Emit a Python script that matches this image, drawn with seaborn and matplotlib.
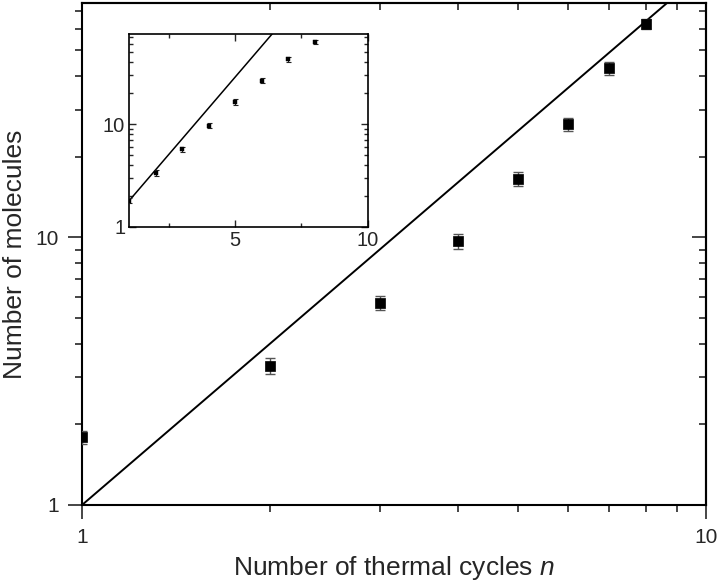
import numpy as np
import pandas as pd
import matplotlib
matplotlib.use("Agg")
import matplotlib.pyplot as plt
import seaborn as sns
from matplotlib.ticker import FixedLocator, FuncFormatter, NullFormatter, LogLocator

cycles = [1, 2, 3, 4, 5, 6, 7, 8]
molecules = [1.79, 3.31, 5.69, 9.66, 16.5, 26.5, 42.8, 62.7]
errors = [0.10, 0.22, 0.35, 0.60, 1.0, 1.5, 2.3, 2.8]
main_ticks = [1, 10]
inset_xticks = [5, 10]
inset_xminor = [2.5, 7.5]

df = pd.DataFrame({"n": cycles, "N": molecules, "err": errors})

sns.set_style("ticks")
plt.rcParams["font.family"] = ["Liberation Sans", "DejaVu Sans"]
plt.rcParams["mathtext.fontset"] = "custom"
plt.rcParams["mathtext.it"] = "Liberation Sans:italic"
plt.rcParams["mathtext.rm"] = "Liberation Sans"

fig = plt.figure(figsize=(7.2, 5.87), dpi=100)
ax = fig.add_axes([82 / 720, 1 - 505 / 587, 624 / 720, 502 / 587])

# model line N = n^2
n_line = np.logspace(0, 1, 100)
sns.lineplot(x=n_line, y=n_line ** 2, color="black", lw=1.4, ax=ax)
ax.errorbar(df["n"], df["N"], yerr=df["err"], fmt="none", ecolor="#555555",
            elinewidth=1, capsize=3.6, capthick=1, zorder=3)
sns.scatterplot(data=df, x="n", y="N", marker="s", s=50, color="black",
                edgecolor="black", linewidth=0.5, ax=ax, zorder=4)

ax.set_xscale("log")
ax.set_yscale("log")
ax.set_xlim(1, 10)
ax.set_ylim(1, 75)
fmt = FuncFormatter(lambda v, p: f"{v:g}")
for axis in (ax.xaxis, ax.yaxis):
    axis.set_major_locator(FixedLocator(main_ticks))
    axis.set_major_formatter(fmt)
    axis.set_minor_locator(LogLocator(base=10, subs=np.arange(2, 10)))
    axis.set_minor_formatter(NullFormatter())
ax.tick_params(which="major", direction="out", length=10, width=1.2, labelsize=15, pad=6.5)
ax.tick_params(which="minor", direction="out", length=5, width=1.2)
for s in ax.spines.values():
    s.set_visible(True)
    s.set_linewidth(1.5)
    s.set_color("black")

# mirrored ticks on top / right, pointing inward
top = ax.secondary_xaxis("top")
right = ax.secondary_yaxis("right")
for sec, axis in ((top, top.xaxis), (right, right.yaxis)):
    axis.set_major_locator(FixedLocator(main_ticks))
    axis.set_minor_locator(LogLocator(base=10, subs=np.arange(2, 10)))
    axis.set_major_formatter(NullFormatter())
    axis.set_minor_formatter(NullFormatter())
    sec.tick_params(which="major", direction="in", length=10, width=1.2)
    sec.tick_params(which="minor", direction="in", length=5, width=1.2)
    for s in sec.spines.values():
        s.set_linewidth(1.5)

ax.set_xlabel("Number of thermal cycles $n$", fontsize=19, labelpad=5)
ax.set_ylabel("Number of molecules", fontsize=19, labelpad=6)

# inset: linear n, log N
ins = fig.add_axes([129.3 / 720, 1 - 226.7 / 587, 238.4 / 720, 192.4 / 587])
n_in = np.linspace(1, 10, 100)
sns.lineplot(x=n_in, y=1.8 * 2 ** (n_in - 1), color="black", lw=1.1, ax=ins)
ins.errorbar(df["n"], df["N"], yerr=df["err"], fmt="none", ecolor="#222222",
             elinewidth=0.8, capsize=1.8, capthick=0.8, zorder=3)
sns.scatterplot(data=df, x="n", y="N", marker="s", s=8, color="black",
                edgecolor="black", linewidth=0.3, ax=ins, zorder=4)
ins.set_yscale("log")
ins.set_xlim(1, 10)
ins.set_ylim(1, 75)
ins.xaxis.set_major_locator(FixedLocator(inset_xticks))
ins.xaxis.set_minor_locator(FixedLocator(inset_xminor))
ins.yaxis.set_major_locator(FixedLocator(main_ticks))
ins.yaxis.set_major_formatter(fmt)
ins.yaxis.set_minor_locator(LogLocator(base=10, subs=np.arange(2, 10)))
ins.yaxis.set_minor_formatter(NullFormatter())
ins.tick_params(which="both", top=True, right=True, direction="in", width=1)
ins.tick_params(which="major", length=5, labelsize=14.5, pad=3)
ins.tick_params(which="minor", length=3)
ins.set_xlabel("")
ins.set_ylabel("")
for s in ins.spines.values():
    s.set_visible(True)
    s.set_linewidth(1.2)
    s.set_color("black")

fig.savefig("out.png", dpi=100)
